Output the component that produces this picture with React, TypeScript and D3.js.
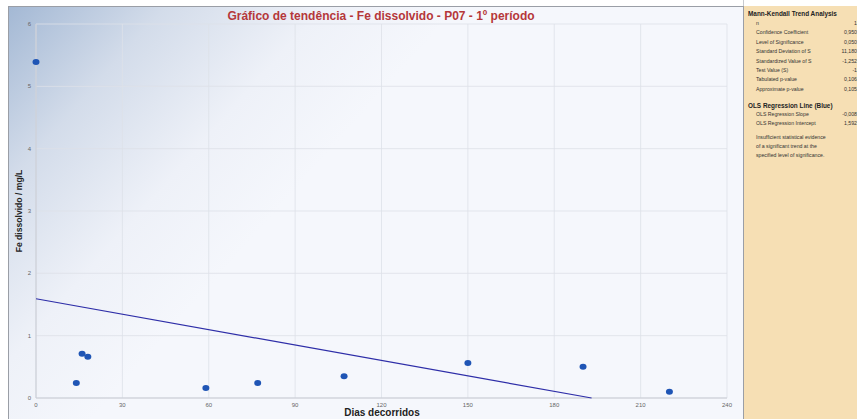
import React from "react";
import * as d3 from "d3";

const days = [0, 14, 16, 18, 59, 77, 107, 150, 190, 220];
const fe = [5.39, 0.24, 0.71, 0.66, 0.16, 0.24, 0.35, 0.56, 0.5, 0.1];
const xTicks = [0, 30, 60, 90, 120, 150, 180, 210, 240];
const yTicks = [0, 1, 2, 3, 4, 5, 6];
const olsIntercept = 1.592;
const olsSlope = -0.00825;
const mkRows = [
  ["n", "1"],
  ["Confidence Coefficient", "0,950"],
  ["Level of Significance", "0,050"],
  ["Standard Deviation of S", "11,180"],
  ["Standardized Value of S", "-1,252"],
  ["Test Value (S)", "-1"],
  ["Tabulated p-value", "0,106"],
  ["Approximate p-value", "0,105"],
];
const olsRows = [
  ["OLS Regression Slope", "-0,008"],
  ["OLS Regression Intercept", "1,592"],
];
const noteLines = [
  "Insufficient statistical evidence",
  "of a significant trend at the",
  "specified level of significance.",
];

export default function App() {
  const W = 857, H = 419;
  const x = d3.scaleLinear().domain([0, 240]).range([36, 727]);
  const y = d3.scaleLinear().domain([0, 6]).range([398, 24]);
  const xEnd = -olsIntercept / olsSlope;
  const line = d3.line<number>().x((d) => x(d)).y((d) => y(olsIntercept + olsSlope * d));
  const font = "Liberation Sans, Arial, sans-serif";
  return (
    <svg width={W} height={H} style={{ position: "absolute", left: 0, top: 0 }} fontFamily={font}>
      <defs>
        <linearGradient id="bg" x1="8" y1="6" x2="260" y2="230" gradientUnits="userSpaceOnUse">
          <stop offset="0" stopColor="#a3b8d4" />
          <stop offset="0.35" stopColor="#d3dcea" />
          <stop offset="0.7" stopColor="#eef1f8" />
          <stop offset="1" stopColor="#f5f7fc" />
        </linearGradient>
      </defs>
      <rect x={0} y={0} width={W} height={H} fill="#ffffff" />
      <rect x={8.5} y={6.5} width={735} height={H} fill="url(#bg)" stroke="#9a9ea6" strokeWidth={1} />
      <rect x={744} y={6} width={113} height={H} fill="#f6dfb4" />
      <line x1={743.5} y1={0} x2={743.5} y2={6} stroke="#c8cbd0" />
      {xTicks.map((t) => (
        <line key={"gx" + t} x1={x(t)} x2={x(t)} y1={y(6)} y2={y(0)} stroke="#dde1e9" strokeOpacity={0.8} strokeWidth={1} />
      ))}
      {yTicks.map((t) => (
        <line key={"gy" + t} x1={x(0)} x2={x(240)} y1={y(t)} y2={y(t)} stroke="#dde1e9" strokeOpacity={0.8} strokeWidth={1} />
      ))}
      <line x1={x(0)} x2={x(0)} y1={y(6)} y2={y(0)} stroke="#c9ccd4" />
      <line x1={x(0)} x2={x(240)} y1={y(0)} y2={y(0)} stroke="#c9ccd4" />
      {xTicks.map((t) => (
        <text key={"tx" + t} x={x(t)} y={407} fontSize={6} fill="#666" textAnchor="middle">{t}</text>
      ))}
      {yTicks.map((t) => (
        <text key={"ty" + t} x={31} y={y(t) + 2} fontSize={6} fill="#666" textAnchor="end">{t}</text>
      ))}
      <text x={381} y={20} fontSize={12} fontWeight="bold" fill="#b5373a" textAnchor="middle">
        Gráfico de tendência - Fe dissolvido - P07 - 1º período
      </text>
      <text x={382} y={416} fontSize={10} fontWeight="bold" fill="#222" textAnchor="middle">Dias decorridos</text>
      <text transform={`translate(22,${(y(0) + y(6)) / 2}) rotate(-90)`} fontSize={8.6} fontWeight="bold" fill="#222" textAnchor="middle">
        Fe dissolvido / mg/L
      </text>
      <path d={line([0, xEnd]) || ""} fill="none" stroke="#2e2ea8" strokeWidth={1.2} />
      {days.map((d, i) => (
        <ellipse key={"p" + i} cx={x(d)} cy={y(fe[i])} rx={3.5} ry={3} fill="#1f55b5" />
      ))}
      <g fontSize={5.2} fill="#333">
        <text x={748} y={16} fontSize={6.4} fontWeight="bold" fill="#222">Mann-Kendall Trend Analysis</text>
        {mkRows.map((r, i) => (
          <g key={"mk" + i}>
            <text x={756} y={25 + i * 9.4}>{r[0]}</text>
            <text x={857} y={25 + i * 9.4} textAnchor="end">{r[1]}</text>
          </g>
        ))}
        <text x={748} y={108} fontSize={6.4} fontWeight="bold" fill="#222">OLS Regression Line (Blue)</text>
        {olsRows.map((r, i) => (
          <g key={"ols" + i}>
            <text x={756} y={116 + i * 9.4}>{r[0]}</text>
            <text x={857} y={116 + i * 9.4} textAnchor="end">{r[1]}</text>
          </g>
        ))}
        {noteLines.map((l, i) => (
          <text key={"n" + i} x={756} y={138.5 + i * 9} >{l}</text>
        ))}
      </g>
    </svg>
  );
}
